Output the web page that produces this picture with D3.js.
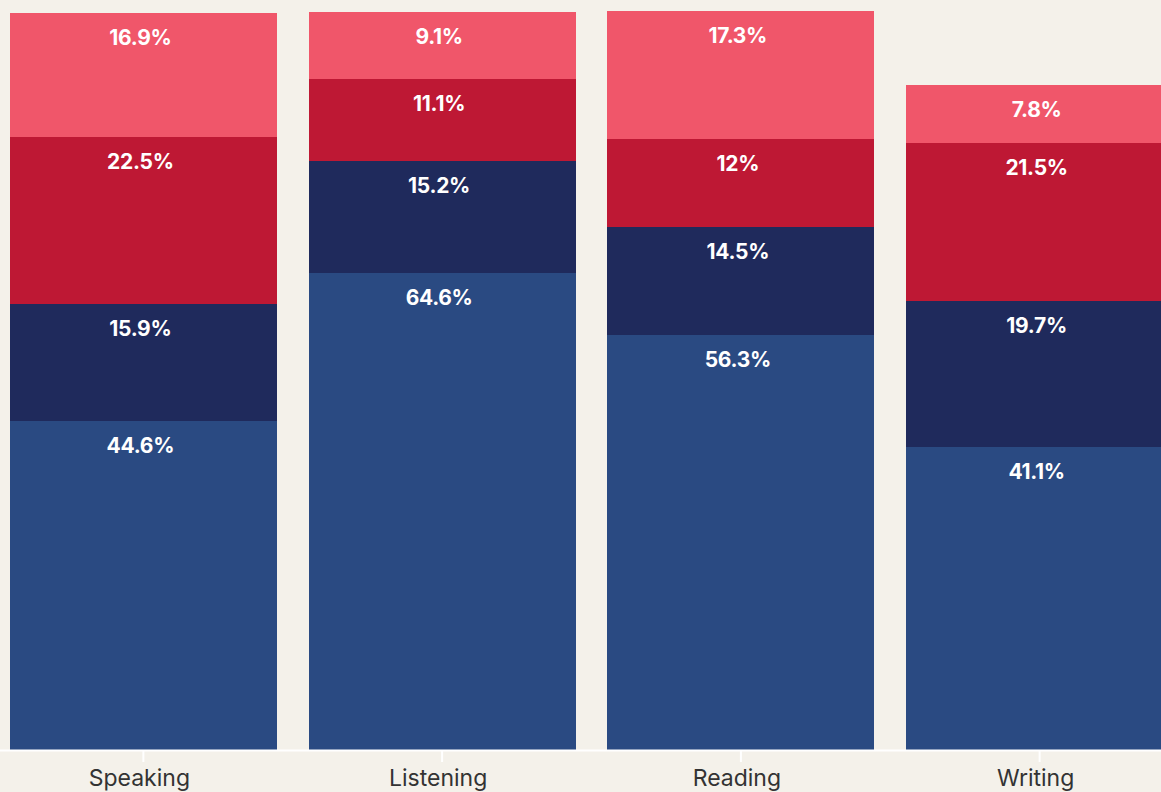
<!DOCTYPE html>
<html>
<head>
<meta charset="utf-8">
<script src="https://cdn.jsdelivr.net/npm/d3@7"></script>
<style>
  html, body { margin: 0; padding: 0; background: #f4f1ea; overflow: hidden; }
  svg { display: block; }
</style>
</head>
<body>
<svg id="chart" width="1161" height="792"></svg>
<script>
// Skills, bottom-to-top stack layers and their shares (%)
const skills = ["Speaking", "Listening", "Reading", "Writing"];
const layers = ["level1", "level2", "level3", "level4"];
const level1 = [44.6, 64.6, 56.3, 41.1];
const level2 = [15.9, 15.2, 14.5, 19.7];
const level3 = [22.5, 11.1, 12, 21.5];
const level4 = [16.9, 9.1, 17.3, 7.8];
const layerColors = ["#2a4a82", "#1f2a5c", "#be1834", "#f0566a"];

const rows = skills.map((s, i) => ({
  skill: s,
  level1: level1[i],
  level2: level2[i],
  level3: level3[i],
  level4: level4[i]
}));

const svg = d3.select("#chart");
const baseY = 750, topY = 12;

const x = d3.scaleBand()
  .domain(skills)
  .range([-6, 1189])
  .paddingInner(0.106)
  .paddingOuter(0.053);

const y = d3.scaleLinear().domain([0, 100]).range([baseY, topY]);
const color = d3.scaleOrdinal().domain(layers).range(layerColors);

const stacked = d3.stack().keys(layers)(rows);

const g = svg.append("g");

const layerG = g.selectAll("g.layer")
  .data(stacked)
  .join("g")
  .attr("class", "layer")
  .attr("fill", d => color(d.key));

layerG.selectAll("rect")
  .data(d => d)
  .join("rect")
  .attr("shape-rendering", "crispEdges")
  .attr("x", d => x(d.data.skill))
  .attr("width", x.bandwidth())
  .attr("y", d => y(d[1]))
  .attr("height", d => y(d[0]) - y(d[1]));

// value labels, placed just under each segment's top edge
layerG.selectAll("text")
  .data(d => d.map(v => ({ v, key: d.key })))
  .join("text")
  .attr("x", d => x(d.v.data.skill) + x.bandwidth() / 2 - 3)
  .attr("y", d => y(d.v[1]) + 32)
  .attr("text-anchor", "middle")
  .attr("fill", "#ffffff")
  .style("font-family", "Inter, 'Noto Sans', sans-serif")
  .style("font-weight", "700")
  .style("font-size", "21px")
  .style("letter-spacing", "-0.3px")
  .text(d => d.v.data[d.key] + "%");

// category axis
const axis = svg.append("g")
  .attr("transform", `translate(0,${baseY})`)
  .call(d3.axisBottom(x).tickSize(12).tickSizeOuter(0).tickPadding(8));

axis.select(".domain").attr("stroke", "#ffffff").attr("stroke-width", 2);
axis.selectAll(".tick line").attr("stroke", "#ffffff").attr("stroke-width", 2);
axis.selectAll(".tick text")
  .attr("fill", "#333333")
  .attr("dx", -4)
  .style("font-family", "Inter, 'Noto Sans', sans-serif")
  .style("font-size", "23px")
  .style("font-weight", "400");
</script>
</body>
</html>
